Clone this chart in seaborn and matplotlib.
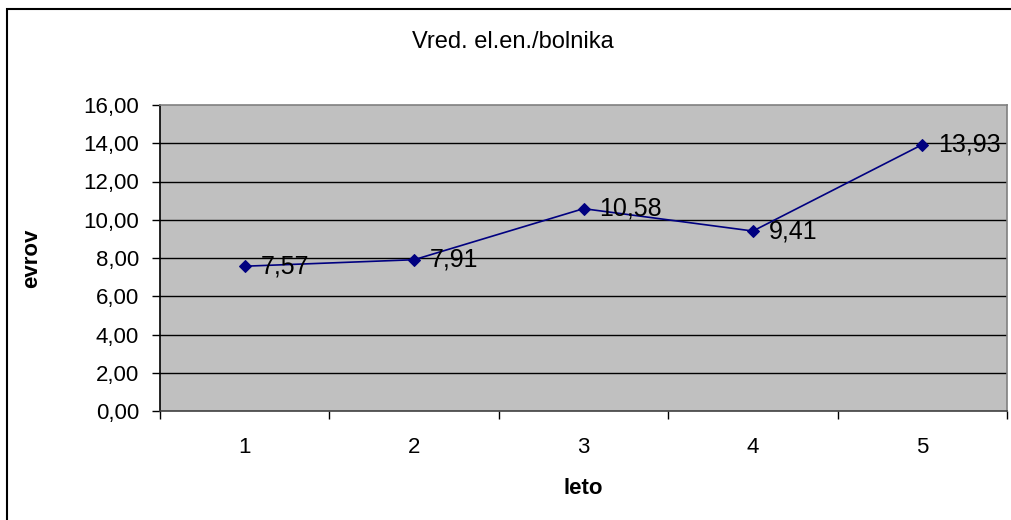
import matplotlib
matplotlib.use('Agg')
import matplotlib.pyplot as plt
import matplotlib.patches as mpatches
import pandas as pd
import seaborn as sns

# Data
leto = [1, 2, 3, 4, 5]
evrov = [7.57, 7.91, 10.58, 9.41, 13.93]
labels = ['7,57', '7,91', '10,58', '9,41', '13,93']
yticks = [0, 2, 4, 6, 8, 10, 12, 14, 16]
ytick_labels = ['0,00', '2,00', '4,00', '6,00', '8,00', '10,00', '12,00', '14,00', '16,00']

df = pd.DataFrame({'leto': leto, 'evrov': evrov})

sns.set_style('white')
plt.rcParams['font.family'] = ['Liberation Sans', 'DejaVu Sans']
plt.rcParams['text.color'] = 'black'
plt.rcParams['axes.labelcolor'] = 'black'
plt.rcParams['xtick.color'] = 'black'
plt.rcParams['ytick.color'] = 'black'

fig = plt.figure(figsize=(10.11, 5.2), dpi=100)
ax = fig.add_axes([160 / 1011, 1 - 411 / 520, 847 / 1011, 306 / 520])
ax.set_facecolor('#c0c0c0')

# Horizontal grid lines
for y in yticks[1:-1]:
    ax.axhline(y, color='black', linewidth=1, zorder=1)

sns.lineplot(data=df, x='leto', y='evrov', ax=ax, color='#000080', linewidth=1.2,
             marker='D', markersize=6, markeredgecolor='#000080', zorder=3)

for x, y, t in zip(leto, evrov, labels):
    ax.annotate(t, (x, y), xytext=(16, 0), textcoords='offset pixels',
                ha='left', va='center', fontsize=18, color='black', zorder=4)

ax.set_xlim(0.5, 5.5)
ax.set_ylim(0, 16)
ax.set_yticks(yticks)
ax.set_yticklabels(ytick_labels, fontsize=16)
ax.set_xticks(leto)
ax.set_xticklabels([str(v) for v in leto], fontsize=16)
ax.set_xticks([0.5, 1.5, 2.5, 3.5, 4.5, 5.5], minor=True)
ax.tick_params(axis='x', which='major', length=0, pad=19)
ax.tick_params(axis='x', which='minor', length=6, direction='out', color='black', width=1, bottom=True)
ax.tick_params(axis='y', length=6, direction='out', color='black', width=1, left=True, pad=9)

for side in ['top', 'right']:
    ax.spines[side].set_color('#808080')
    ax.spines[side].set_linewidth(1.2)
for side in ['left', 'bottom']:
    ax.spines[side].set_color('black')
    ax.spines[side].set_linewidth(1.2)
ax.spines['bottom'].set_color('#404040')

ax.set_xlabel('leto', fontsize=16, fontweight='bold', labelpad=14)
ax.set_ylabel('evrov', fontsize=16, fontweight='bold', labelpad=30)
fig.text(513 / 1011, 1 - 42 / 520, 'Vred. el.en./bolnika',
         ha='center', va='center', fontsize=17)

# Outer chart frame
frame = mpatches.Rectangle((7 / 1011, -0.01), 1.1, 1 - 9 / 520 + 0.01, transform=fig.transFigure,
                           fill=False, edgecolor='black', linewidth=1.5, zorder=0)
fig.patches.append(frame)

fig.savefig('out.png', dpi=100)
